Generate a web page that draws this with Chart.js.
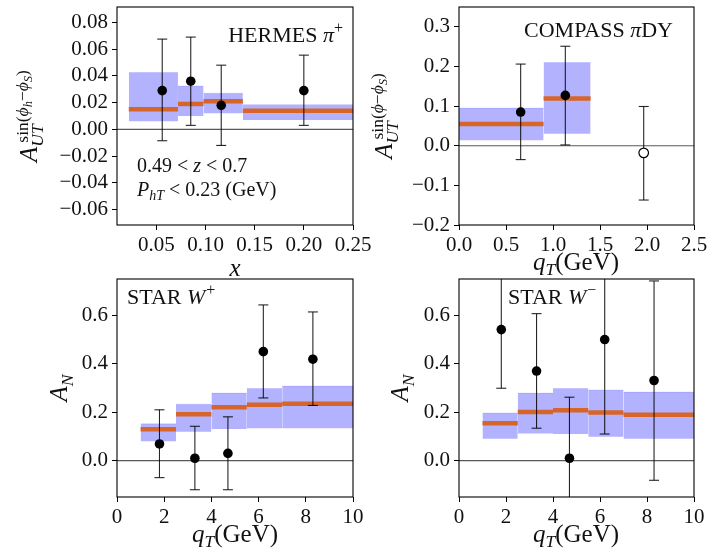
<!DOCTYPE html>
<html><head><meta charset="utf-8">
<script src="https://cdn.jsdelivr.net/npm/chart.js@4"></script>
<style>
html,body{margin:0;padding:0;background:#fff;}
#wrap{position:relative;width:708px;height:550px;overflow:hidden;background:#fff;}
canvas{position:absolute;left:0;top:0;}
</style></head><body>
<div id="wrap">
<canvas id="c1" width="708" height="550"></canvas>
<canvas id="c2" width="708" height="550"></canvas>
<canvas id="c3" width="708" height="550"></canvas>
<canvas id="c4" width="708" height="550"></canvas>
</div>
<script>
// ---------------- DATA ----------------
// HERMES pi+
const hermesX    = [0.056, 0.085, 0.116, 0.200];
const hermesY    = [0.029, 0.036, 0.018, 0.029];
const hermesErrLo= [-0.0085, 0.003, -0.012, 0.003];
const hermesErrHi= [0.0675, 0.069, 0.048, 0.0555];
const hermesBinLo= [0.022, 0.072, 0.098, 0.138];
const hermesBinHi= [0.072, 0.098, 0.138, 0.26];
const hermesFit  = [0.015, 0.019, 0.021, 0.014];
const hermesBandLo=[0.006, 0.010, 0.012, 0.007];
const hermesBandHi=[0.0425,0.0325,0.027, 0.0185];
const hermesXTicks=[0.05, 0.10, 0.15, 0.20, 0.25];
const hermesYTicks=[-0.06,-0.04,-0.02,0.00,0.02,0.04,0.06,0.08];

// COMPASS pi DY
const compassX    = [0.656, 1.131];
const compassY    = [0.085, 0.127];
const compassErrLo= [-0.035, 0.002];
const compassErrHi= [0.206, 0.251];
const compassOpenX= [1.965];
const compassOpenY= [-0.018];
const compassOpenErrLo=[-0.137];
const compassOpenErrHi=[0.099];
const compassBinLo= [0.0, 0.9];
const compassBinHi= [0.9, 1.4];
const compassFit  = [0.055, 0.119];
const compassBandLo=[0.014, 0.030];
const compassBandHi=[0.095, 0.210];
const compassXTicks=[0.0,0.5,1.0,1.5,2.0,2.5];
const compassYTicks=[-0.2,-0.1,0.0,0.1,0.2,0.3];

// STAR W+
const starBinLo = [1, 2.5, 4, 5.5, 7];
const starBinHi = [2.5, 4, 5.5, 7, 10];
const wpX     = [1.8, 3.3, 4.7, 6.2, 8.3];
const wpY     = [0.069, 0.010, 0.030, 0.450, 0.419];
const wpErrLo = [-0.070, -0.120, -0.120, 0.259, 0.228];
const wpErrHi = [0.210, 0.142, 0.181, 0.643, 0.614];
const wpFit   = [0.130, 0.192, 0.221, 0.231, 0.235];
const wpBandLo= [0.080, 0.119, 0.131, 0.134, 0.134];
const wpBandHi= [0.152, 0.233, 0.279, 0.298, 0.308];

// STAR W-
const wmX     = [1.8, 3.3, 4.7, 6.2, 8.3];
const wmY     = [0.541, 0.370, 0.010, 0.500, 0.331];
const wmErrLo = [0.299, 0.134, -0.242, 0.110, -0.081];
const wmErrHi = [0.783, 0.607, 0.262, 0.890, 0.742];
const wmFit   = [0.154, 0.201, 0.208, 0.199, 0.190];
const wmBandLo= [0.090, 0.112, 0.110, 0.099, 0.090];
const wmBandHi= [0.197, 0.279, 0.298, 0.292, 0.283];
const starXTicks=[0,2,4,6,8,10];
const starYTicks=[0.0,0.2,0.4,0.6];

// ---------------- STYLE ----------------
const FAM = '"Liberation Serif","Times New Roman",serif';
const BAND = 'rgba(0,0,255,0.30)';
const BANDEDGE = 'rgba(0,0,255,0.10)';
const ORANGE = '#d6652a';
const ERR = 'rgba(0,0,0,0.85)';
const TXT = '#111';

function fmt(v,d){ let s=(Math.abs(v)<1e-9?0:v).toFixed(d); return s.replace('-','\u2212'); }
function fontOf(p){ return (p.it?'italic ':'')+p.s+'px '+FAM; }

// rich text: parts {t,s,it,dy,dx,mark,back}
function layoutRich(ctx, parts){
  let cursor=0, markX=0, maxX=0; const out=[];
  for(const p of parts){
    ctx.font=fontOf(p);
    const w=ctx.measureText(p.t).width;
    let start = p.back ? markX+(p.dx||0) : cursor+(p.dx||0);
    if(p.mark) markX=start;
    out.push({p,start});
    cursor=start+w; maxX=Math.max(maxX,cursor);
  }
  return {items:out,width:maxX};
}
function drawRich(ctx, parts, x, y, align){
  const L=layoutRich(ctx,parts);
  let x0=x; if(align==='center') x0=x-L.width/2; else if(align==='right') x0=x-L.width;
  ctx.fillStyle=TXT; ctx.textBaseline='alphabetic'; ctx.textAlign='left';
  for(const it of L.items){ ctx.font=fontOf(it.p); ctx.fillText(it.p.t, x0+it.start, y-(it.p.dy||0)); }
}
function drawRichV(ctx, parts, bx, cy){
  ctx.save(); ctx.translate(bx,cy); ctx.rotate(-Math.PI/2);
  drawRich(ctx, parts, 0, 0, 'center'); ctx.restore();
}

function bandSets(binLo,binHi,fit,lo,hi){
  const ds=[];
  for(let i=0;i<binLo.length;i++){
    ds.push({type:'line',showLine:true,data:[{x:binLo[i],y:hi[i]},{x:binHi[i],y:hi[i]}],
      borderColor:BANDEDGE,borderWidth:1,pointRadius:0,backgroundColor:BAND,
      fill:{target:{value:lo[i]},above:BAND,below:BAND},order:8});
    ds.push({type:'line',showLine:true,data:[{x:binLo[i],y:fit[i]},{x:binHi[i],y:fit[i]}],
      borderColor:ORANGE,borderWidth:4.5,borderCapStyle:'butt',pointRadius:0,fill:false,order:6});
  }
  return ds;
}
function errSets(x,lo,hi){
  return x.map((xi,i)=>({type:'line',showLine:true,data:[{x:xi,y:lo[i]},{x:xi,y:hi[i]}],
    borderColor:ERR,borderWidth:1.1,pointStyle:'line',pointRadius:5,pointBorderWidth:1.1,
    pointBorderColor:ERR,pointBackgroundColor:ERR,fill:false,order:3}));
}
function pointSet(x,y,open){
  return {type:'scatter',data:x.map((xi,i)=>({x:xi,y:y[i]})),pointRadius:4.8,
    pointBackgroundColor:open?'#fff':'#000',pointBorderColor:'#000',pointBorderWidth:open?1.2:0,order:1};
}
function zeroSet(a,b){
  return {type:'line',showLine:true,data:[{x:a,y:0},{x:b,y:0}],borderColor:'rgba(60,60,60,0.85)',
    borderWidth:1.2,pointRadius:0,fill:false,order:9};
}

function makePanel(id, o){
  const axisCommon = (ticks,dec)=>({
    type:'linear',
    afterBuildTicks:s=>{ s.ticks=ticks.map(v=>({value:v})); },
    ticks:{autoSkip:false,maxRotation:0,minRotation:0,padding:3,color:TXT,
      font:{family:FAM,size:21},callback:v=>fmt(v,dec)},
    grid:{drawOnChartArea:false,drawTicks:true,tickLength:5,color:'#000',lineWidth:1},
    border:{display:false}
  });
  const xs=Object.assign(axisCommon(o.xTicks,o.xDec),{min:o.xMin,max:o.xMax,position:'bottom',
    afterFit:s=>{s.height=40;s.paddingLeft=s.paddingRight=s.paddingTop=s.paddingBottom=0;}});
  const ys=Object.assign(axisCommon(o.yTicks,o.yDec),{min:o.yMin,max:o.yMax,position:'left',
    afterFit:s=>{s.width=o.area.l;s.paddingLeft=s.paddingRight=s.paddingTop=s.paddingBottom=0;}});
  ys.ticks.padding=4;
  const deco={id:'deco'+id,afterDraw(chart){
    const ctx=chart.ctx,a=chart.chartArea;
    ctx.save();
    ctx.strokeStyle='#000';ctx.lineWidth=1.1;
    ctx.strokeRect(a.left,a.top,a.right-a.left,a.bottom-a.top);
    o.texts(ctx,a);
    ctx.restore();
  }};
  return new Chart(document.getElementById(id),{
    type:'scatter',
    data:{datasets:o.datasets},
    options:{responsive:false,animation:false,events:[],
      layout:{padding:{left:0,top:o.area.t,right:708-o.area.r,bottom:550-o.area.b-40}},
      plugins:{legend:{display:false},tooltip:{enabled:false}},
      scales:{x:xs,y:ys}},
    plugins:[deco]
  });
}

const S1=17.5, S2=12.5, SL=25;
const labAUT1=[{t:'A',it:1,s:SL},{t:'UT',it:1,s:S1,dy:-6,mark:1},
  {t:'sin',s:S1,dy:9,back:1,dx:4},{t:'(',s:S1,dy:9},{t:'ϕ',it:1,s:S1,dy:9},{t:'h',it:1,s:S2,dy:5},
  {t:'\u2212',s:S1,dy:9},{t:'ϕ',it:1,s:S1,dy:9},{t:'S',it:1,s:S2,dy:5},{t:')',s:S1,dy:9}];
const labAUT2=[{t:'A',it:1,s:SL},{t:'UT',it:1,s:S1,dy:-6,mark:1},
  {t:'sin',s:S1,dy:9,back:1,dx:4},{t:'(',s:S1,dy:9},{t:'ϕ',it:1,s:S1,dy:9},
  {t:'\u2212',s:S1,dy:9},{t:'ϕ',it:1,s:S1,dy:9},{t:'S',it:1,s:S2,dy:5},{t:')',s:S1,dy:9}];
const labAN=[{t:'A',it:1,s:SL},{t:'N',it:1,s:S1,dy:-6}];
const labQT=[{t:'q',it:1,s:SL},{t:'T',it:1,s:S1,dy:-5},{t:'(GeV)',s:SL}];

makePanel('c1',{area:{l:117,t:7,r:353,b:225},xMin:0.01,xMax:0.25,yMin:-0.0715,yMax:0.0915,
  xTicks:hermesXTicks,yTicks:hermesYTicks,xDec:2,yDec:2,
  datasets:[pointSet(hermesX,hermesY,false),...errSets(hermesX,hermesErrLo,hermesErrHi),
    ...bandSets(hermesBinLo,hermesBinHi,hermesFit,hermesBandLo,hermesBandHi),zeroSet(0.01,0.25)],
  texts:(ctx,a)=>{
    drawRichV(ctx,labAUT1,37,116);
    drawRich(ctx,[{t:'x',it:1,s:SL}],235,276,'center');
    drawRich(ctx,[{t:'HERMES ',s:22},{t:'π',it:1,s:22},{t:'+',s:16,dy:9}],343,42,'right');
    drawRich(ctx,[{t:'0.49 < ',s:20},{t:'z',it:1,s:20},{t:' < 0.7',s:20}],137,172,'left');
    drawRich(ctx,[{t:'P',it:1,s:20},{t:'hT',it:1,s:14,dy:-4},{t:' < 0.23 (GeV)',s:20}],137,196,'left');
  }});

makePanel('c2',{area:{l:459,t:7,r:694,b:225},xMin:0,xMax:2.5,yMin:-0.2,yMax:0.35,
  xTicks:compassXTicks,yTicks:compassYTicks,xDec:1,yDec:1,
  datasets:[pointSet(compassX,compassY,false),pointSet(compassOpenX,compassOpenY,true),
    ...errSets(compassX,compassErrLo,compassErrHi),...errSets(compassOpenX,compassOpenErrLo,compassOpenErrHi),
    ...bandSets(compassBinLo,compassBinHi,compassFit,compassBandLo,compassBandHi),zeroSet(0,2.5)],
  texts:(ctx,a)=>{
    drawRichV(ctx,labAUT2,392,116);
    drawRich(ctx,labQT,576,270,'center');
    drawRich(ctx,[{t:'COMPASS ',s:22},{t:'π',it:1,s:22},{t:'DY',s:22}],673,37,'right');
  }});

makePanel('c3',{area:{l:117,t:279,r:353,b:497},xMin:0,xMax:10,yMin:-0.15,yMax:0.75,
  xTicks:starXTicks,yTicks:starYTicks,xDec:0,yDec:1,
  datasets:[pointSet(wpX,wpY,false),...errSets(wpX,wpErrLo,wpErrHi),
    ...bandSets(starBinLo,starBinHi,wpFit,wpBandLo,wpBandHi),zeroSet(0,10)],
  texts:(ctx,a)=>{
    drawRichV(ctx,labAN,67,388);
    drawRich(ctx,labQT,235,542,'center');
    drawRich(ctx,[{t:'STAR ',s:22},{t:'W',it:1,s:22},{t:'+',s:16,dy:9,dx:1}],127,304,'left');
  }});

makePanel('c4',{area:{l:459,t:279,r:694,b:497},xMin:0,xMax:10,yMin:-0.15,yMax:0.75,
  xTicks:starXTicks,yTicks:starYTicks,xDec:0,yDec:1,
  datasets:[pointSet(wmX,wmY,false),...errSets(wmX,wmErrLo,wmErrHi),
    ...bandSets(starBinLo,starBinHi,wmFit,wmBandLo,wmBandHi),zeroSet(0,10)],
  texts:(ctx,a)=>{
    drawRichV(ctx,labAN,408,388);
    drawRich(ctx,labQT,576,542,'center');
    drawRich(ctx,[{t:'STAR ',s:22},{t:'W',it:1,s:22},{t:'\u2212',s:16,dy:9,dx:1}],508,304,'left');
  }});
</script>
</body></html>
